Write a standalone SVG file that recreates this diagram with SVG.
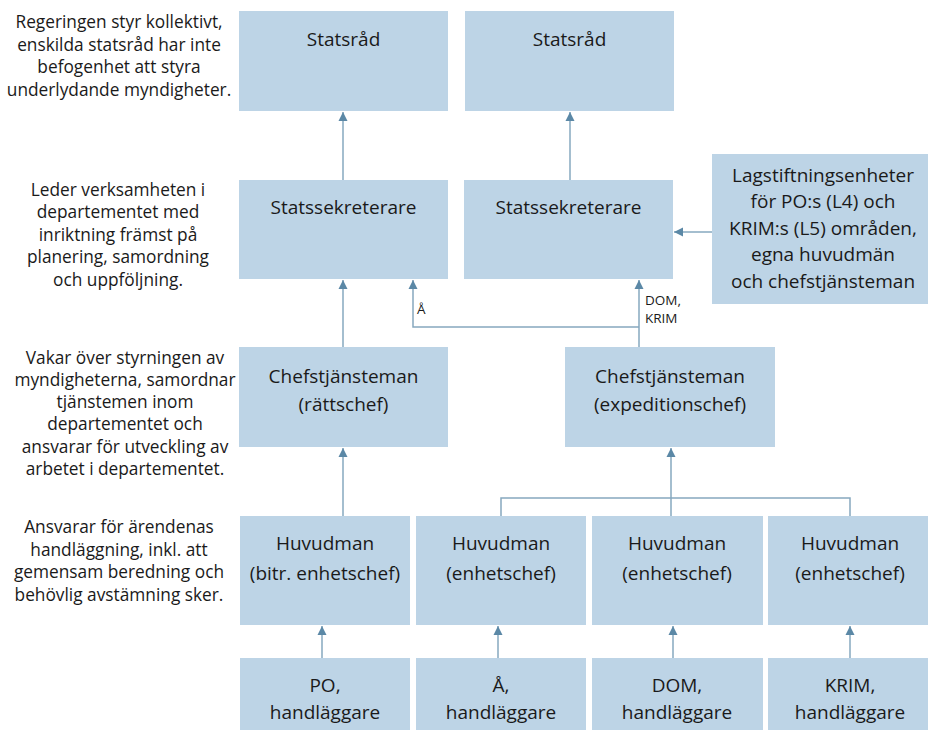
<svg xmlns="http://www.w3.org/2000/svg" width="928" height="730" viewBox="0 0 928 730">
<style>
.box{fill:#BDD4E6}
.t{font-family:"Open Sans","Liberation Sans",sans-serif;font-size:19px;fill:#1a1a1a;text-anchor:middle}
.n{font-family:"Open Sans","Liberation Sans",sans-serif;font-size:17.3px;fill:#1a1a1a;text-anchor:middle}
.s{font-family:"Open Sans","Liberation Sans",sans-serif;font-size:13.5px;fill:#1a1a1a}
.c{fill:none;stroke:#86A8BF;stroke-width:1.5}
</style>
<defs>
<marker id="ah" markerUnits="userSpaceOnUse" markerWidth="10" markerHeight="10" viewBox="0 0 10 10" refX="9" refY="5" orient="auto">
<path d="M0,0.5 L9,5 L0,9.5 Z" fill="#5B88A6"/>
</marker>
</defs>
<rect width="928" height="730" fill="#fff"/>

<g id="notes">
<text class="n" x="119" y="28">Regeringen styr kollektivt,</text>
<text class="n" x="119" y="51">enskilda statsråd har inte</text>
<text class="n" x="119" y="73">befogenhet att styra</text>
<text class="n" x="119" y="96">underlydande myndigheter.</text>
<text class="n" x="118" y="196">Leder verksamheten i</text>
<text class="n" x="118" y="218">departementet med</text>
<text class="n" x="118" y="241">inriktning främst på</text>
<text class="n" x="118" y="263">planering, samordning</text>
<text class="n" x="118" y="286">och uppföljning.</text>
<text class="n" x="125" y="364">Vakar över styrningen av</text>
<text class="n" x="125" y="386">myndigheterna, samordnar</text>
<text class="n" x="125" y="408">tjänstemen inom</text>
<text class="n" x="125" y="430">departementet och</text>
<text class="n" x="125" y="453">ansvarar för utveckling av</text>
<text class="n" x="125" y="475">arbetet i departementet.</text>
<text class="n" x="119" y="533">Ansvarar för ärendenas</text>
<text class="n" x="119" y="556">handläggning, inkl. att</text>
<text class="n" x="119" y="578">gemensam beredning och</text>
<text class="n" x="119" y="601">behövlig avstämning sker.</text>
</g>

<g id="connectors">
<line class="c" x1="343" y1="180" x2="343" y2="112" marker-end="url(#ah)"/>
<line class="c" x1="570" y1="180" x2="570" y2="112" marker-end="url(#ah)"/>
<line class="c" x1="712" y1="232" x2="674" y2="232" marker-end="url(#ah)"/>
<line class="c" x1="343" y1="347" x2="343" y2="280" marker-end="url(#ah)"/>
<line class="c" x1="639" y1="347" x2="639" y2="280" marker-end="url(#ah)"/>
<polyline class="c" points="639,327 413,327 413,280" marker-end="url(#ah)"/>
<line class="c" x1="343" y1="516" x2="343" y2="448" marker-end="url(#ah)"/>
<polyline class="c" points="501,516 501,498 850,498 850,516" stroke="#A7BFD0"/>
<line class="c" x1="671" y1="516" x2="671" y2="448" marker-end="url(#ah)"/>
<line class="c" x1="322" y1="658" x2="322" y2="626" marker-end="url(#ah)"/>
<line class="c" x1="498" y1="658" x2="498" y2="626" marker-end="url(#ah)"/>
<line class="c" x1="673" y1="658" x2="673" y2="626" marker-end="url(#ah)"/>
<line class="c" x1="850" y1="658" x2="850" y2="626" marker-end="url(#ah)"/>
<text class="s" x="417" y="314">Å</text>
<text class="s" x="645" y="305">DOM,</text>
<text class="s" x="645" y="323">KRIM</text>
</g>

<g id="statsrad1"><rect class="box" x="239" y="11" width="209" height="100"/><text class="t" x="343.5" y="46">Statsråd</text></g>
<g id="statsrad2"><rect class="box" x="465" y="11" width="209" height="100"/><text class="t" x="569.5" y="46">Statsråd</text></g>
<g id="statssekr1"><rect class="box" x="239" y="180" width="209" height="99"/><text class="t" x="343.5" y="214">Statssekreterare</text></g>
<g id="statssekr2"><rect class="box" x="464" y="180" width="209" height="99"/><text class="t" x="568.5" y="214">Statssekreterare</text></g>
<g id="lagstiftning"><rect class="box" x="712" y="154" width="222" height="150"/>
<text class="t" x="823" y="182">Lagstiftningsenheter</text>
<text class="t" x="823" y="208">för PO:s (L4) och</text>
<text class="t" x="823" y="235">KRIM:s (L5) områden,</text>
<text class="t" x="823" y="261">egna huvudmän</text>
<text class="t" x="823" y="288">och chefstjänsteman</text></g>
<g id="chef1"><rect class="box" x="239" y="347" width="209" height="100"/><text class="t" x="343.5" y="383">Chefstjänsteman</text><text class="t" x="343.5" y="411">(rättschef)</text></g>
<g id="chef2"><rect class="box" x="565" y="347" width="210" height="100"/><text class="t" x="670" y="383">Chefstjänsteman</text><text class="t" x="670" y="411">(expeditionschef)</text></g>
<g id="huvudman1"><rect class="box" x="240" y="516" width="170" height="109"/><text class="t" x="325" y="550">Huvudman</text><text class="t" x="325" y="580">(bitr. enhetschef)</text></g>
<g id="huvudman2"><rect class="box" x="416" y="516" width="170" height="109"/><text class="t" x="501" y="550">Huvudman</text><text class="t" x="501" y="580">(enhetschef)</text></g>
<g id="huvudman3"><rect class="box" x="592" y="516" width="171" height="109"/><text class="t" x="677" y="550">Huvudman</text><text class="t" x="677" y="580">(enhetschef)</text></g>
<g id="huvudman4"><rect class="box" x="768" y="516" width="164" height="109"/><text class="t" x="850" y="550">Huvudman</text><text class="t" x="850" y="580">(enhetschef)</text></g>
<g id="hand1"><rect class="box" x="240" y="658" width="170" height="72"/><text class="t" x="325" y="692">PO,</text><text class="t" x="325" y="719">handläggare</text></g>
<g id="hand2"><rect class="box" x="416" y="658" width="170" height="72"/><text class="t" x="501" y="692">Å,</text><text class="t" x="501" y="719">handläggare</text></g>
<g id="hand3"><rect class="box" x="592" y="658" width="171" height="72"/><text class="t" x="677" y="692">DOM,</text><text class="t" x="677" y="719">handläggare</text></g>
<g id="hand4"><rect class="box" x="768" y="658" width="164" height="72"/><text class="t" x="850" y="692">KRIM,</text><text class="t" x="850" y="719">handläggare</text></g>
</svg>
